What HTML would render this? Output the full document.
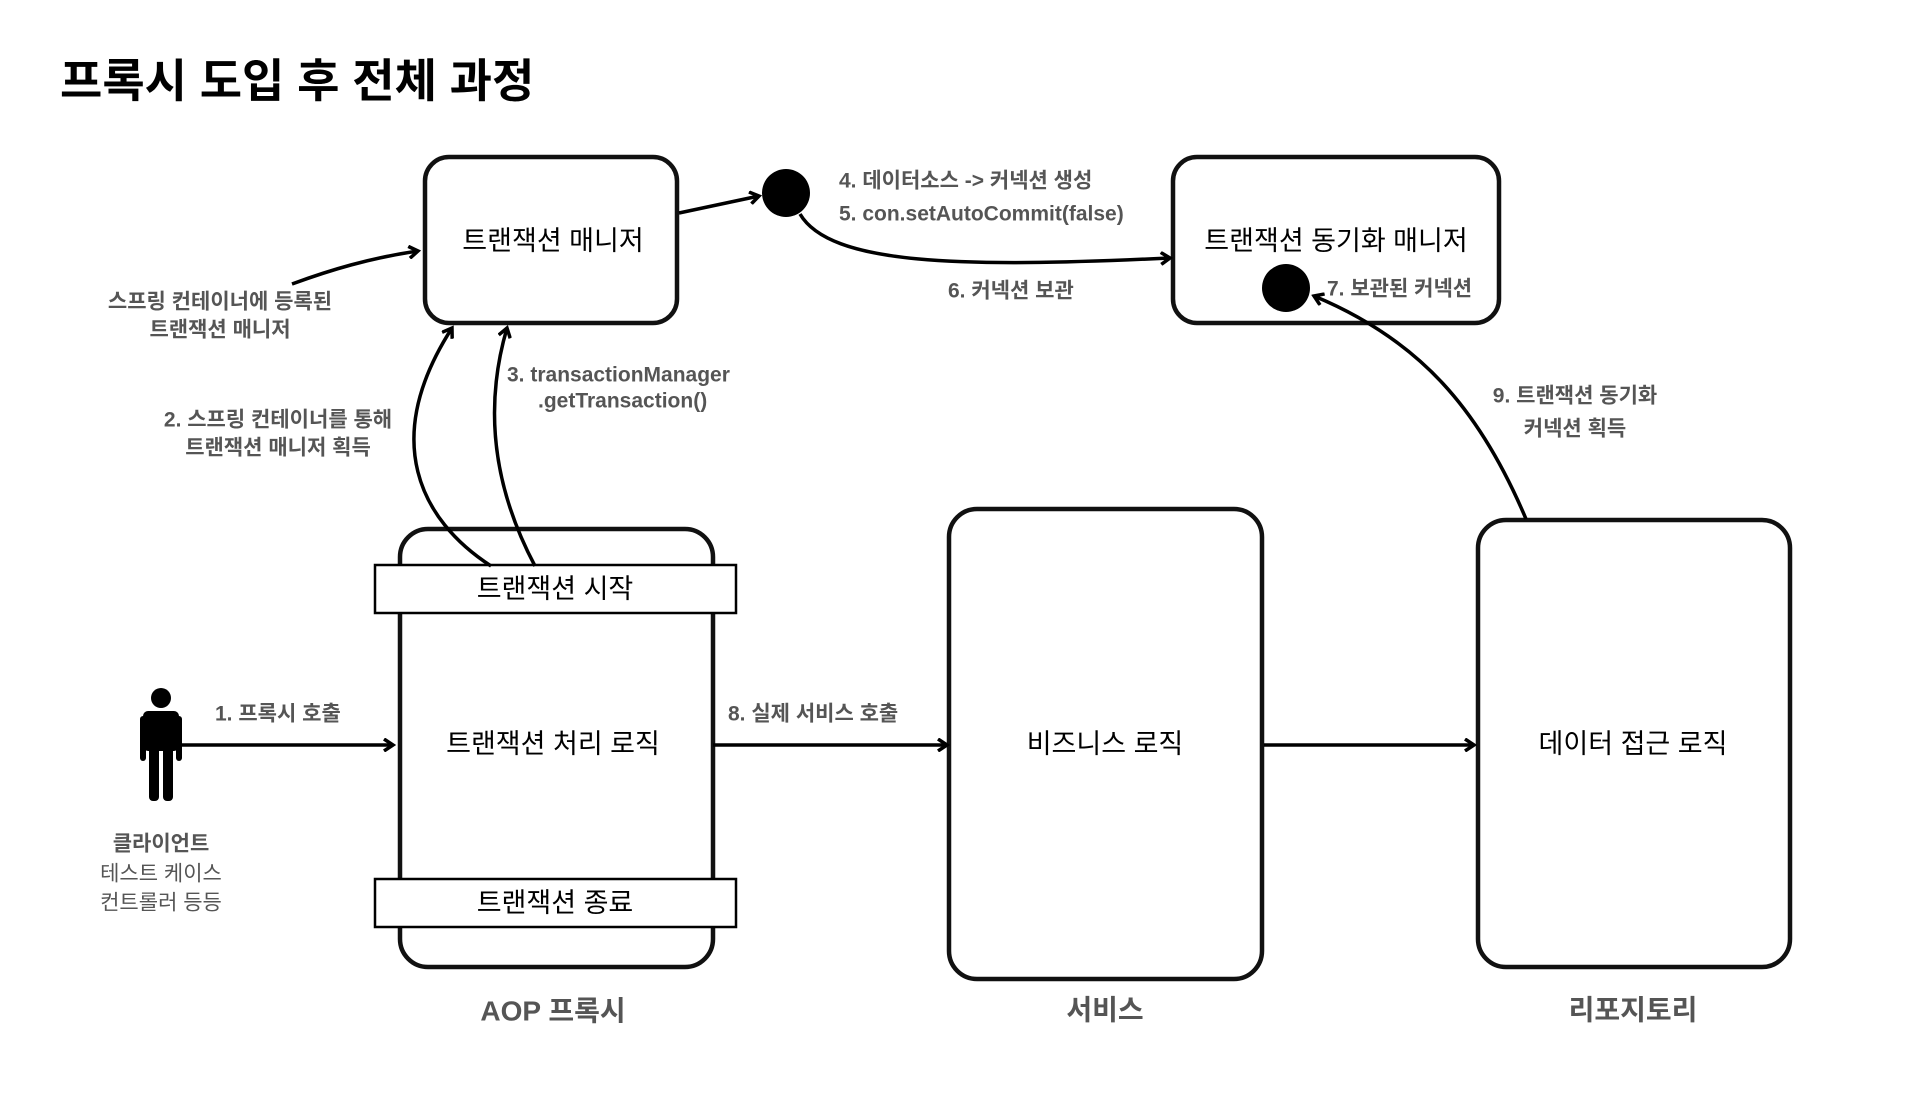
<!DOCTYPE html>
<html><head><meta charset="utf-8"><style>
html,body{margin:0;padding:0;background:#fff;}
svg{display:block;}
text{font-family:"Liberation Sans","Noto Sans CJK KR",sans-serif;}
.b{font-size:27px;fill:#000;text-anchor:middle;dominant-baseline:central;}
.g{font-size:21px;fill:#555;font-weight:bold;dominant-baseline:central;}
.gm{text-anchor:middle;}
.box{fill:#fff;stroke:#111;stroke-width:4.5;}
.ln{fill:none;stroke:#000;stroke-width:3.5;}
</style></head><body>
<svg width="1928" height="1094" viewBox="0 0 1928 1094">
<defs><marker id="a" markerWidth="14" markerHeight="14" refX="11" refY="7" orient="auto" markerUnits="userSpaceOnUse"><path d="M2,1 L11,7 L2,13" fill="none" stroke="#000" stroke-width="3.5"/></marker></defs>
<text x="60" y="81" style="font-size:46px;font-weight:bold;dominant-baseline:central">프록시 도입 후 전체 과정</text>

<rect class="box" x="425" y="157" width="252" height="166" rx="24"/>
<text class="b" x="553" y="241">트랜잭션 매니저</text>
<rect class="box" x="1173" y="157" width="326" height="166" rx="24"/>
<text class="b" x="1336" y="241">트랜잭션 동기화 매니저</text>
<circle cx="786" cy="193" r="24" fill="#000"/>
<circle cx="1286" cy="288" r="24" fill="#000"/>

<rect class="box" x="400" y="529" width="313" height="438" rx="28"/>
<rect class="box" x="949" y="509" width="313" height="470" rx="28"/>
<rect class="box" x="1478" y="520" width="312" height="447" rx="28"/>
<rect x="375" y="565" width="361" height="48" fill="#fff" stroke="#000" stroke-width="2.5"/>
<text class="b" x="555" y="589">트랜잭션 시작</text>
<rect x="375" y="879" width="361" height="48" fill="#fff" stroke="#000" stroke-width="2.5"/>
<text class="b" x="555" y="903">트랜잭션 종료</text>
<text class="b" x="553" y="744">트랜잭션 처리 로직</text>
<text class="b" x="1105" y="744">비즈니스 로직</text>
<text class="b" x="1633" y="744">데이터 접근 로직</text>

<path class="ln" d="M679,213 L759,196" marker-end="url(#a)"/>
<path class="ln" d="M800,214 C830,265 960,268 1170,258" marker-end="url(#a)"/>
<path class="ln" d="M292,284 C330,270 370,258 418,251" marker-end="url(#a)"/>
<path class="ln" d="M491,566 C420,520 380,440 452,328" marker-end="url(#a)"/>
<path class="ln" d="M535,566 C500,500 480,420 507,328" marker-end="url(#a)"/>
<path class="ln" d="M1526,519 C1480,410 1420,340 1314,296" marker-end="url(#a)"/>
<path class="ln" d="M178,745 L393,745" marker-end="url(#a)"/>
<path class="ln" d="M713,745 L947,745" marker-end="url(#a)"/>
<path class="ln" d="M1264,745 L1474,745" marker-end="url(#a)"/>

<g fill="#000">
<ellipse cx="161" cy="698" rx="10" ry="10"/>
<rect x="143" y="711" width="36" height="40" rx="5"/>
<rect x="140" y="716" width="6" height="45" rx="3"/>
<rect x="176" y="716" width="6" height="45" rx="3"/>
<rect x="149" y="745" width="10" height="56" rx="4"/>
<rect x="163" y="745" width="10" height="56" rx="4"/>
</g>

<text class="g" x="839" y="181">4. 데이터소스 -&gt; 커넥션 생성</text>
<text class="g" x="839" y="214">5. con.setAutoCommit(false)</text>
<text class="g" x="948" y="291">6. 커넥션 보관</text>
<text class="g" x="1327" y="289">7. 보관된 커넥션</text>
<text class="g gm" x="1575" y="396">9. 트랜잭션 동기화</text>
<text class="g gm" x="1575" y="429">커넥션 획득</text>
<text class="g gm" x="220" y="302">스프링 컨테이너에 등록된</text>
<text class="g gm" x="220" y="330">트랜잭션 매니저</text>
<text class="g gm" x="278" y="420">2. 스프링 컨테이너를 통해</text>
<text class="g gm" x="278" y="448">트랜잭션 매니저 획득</text>
<text class="g" x="507" y="375">3. transactionManager</text>
<text class="g" x="538" y="401">.getTransaction()</text>
<text class="g" x="215" y="714">1. 프록시 호출</text>
<text class="g" x="728" y="714">8. 실제 서비스 호출</text>
<text class="g gm" x="161" y="844">클라이언트</text>
<text class="g gm" x="161" y="874" style="font-weight:normal">테스트 케이스</text>
<text class="g gm" x="161" y="903" style="font-weight:normal">컨트롤러 등등</text>
<text class="g gm" x="553" y="1011" style="font-size:28px">AOP 프록시</text>
<text class="g gm" x="1105" y="1010" style="font-size:28px">서비스</text>
<text class="g gm" x="1633" y="1010" style="font-size:28px">리포지토리</text>
</svg>
</body></html>
